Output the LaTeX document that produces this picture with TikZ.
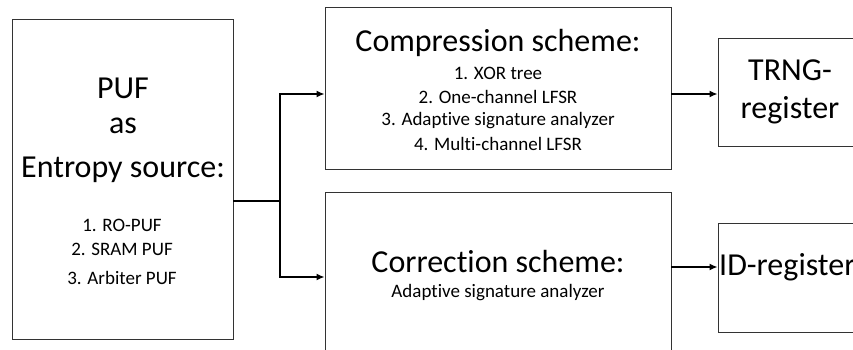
\documentclass[tikz,border=0pt]{standalone}
\usepackage{fontspec}
\setmainfont{Carlito}[Ligatures=NoCommon]
\usetikzlibrary{arrows.meta,calc}
\begin{document}
\begin{tikzpicture}[x=1pt,y=-1pt,
  blk/.style={draw=black!80,line width=0.8pt,rectangle,inner sep=0pt,fill=none},
  big/.style={font=\fontsize{32}{34}\selectfont,inner sep=0pt,anchor=center},
  small/.style={font=\fontsize{19}{21}\selectfont,inner sep=0pt,anchor=center},
  src/.style={font=\fontsize{19}{21}\selectfont,inner sep=0pt,anchor=center},
  wire/.style={line width=1.6pt,black},
  arr/.style={wire,-{Latex[length=8pt,width=7pt]}}]
\useasboundingbox (0,0) rectangle (853,349);
\clip (0,0) rectangle (853,349);

% blocks
\node[blk,minimum width=221pt,minimum height=320pt] (puf) at (122.5,179) {};
\node[blk,minimum width=346pt,minimum height=162pt] (comp) at (498,88) {};
\node[blk,minimum width=346pt,minimum height=170pt] (corr) at (498,277) {};
\node[blk,minimum width=140pt,minimum height=108pt] (trng) at (788,92) {};
\node[blk,minimum width=140pt,minimum height=109pt] (idr) at (788,277.5) {};

% entropy source
\node[big] (t1) at (123,88) {PUF};
\node[big] (t2) at (123,126) {as};
\node[big] (t3) at (123,170) {Entropy source:};
\node[src] (l1) at (122,225) {1. RO-PUF};
\node[src] (l2) at (122,249) {2. SRAM PUF};
\node[src] (l3) at (122,278) {3. Arbiter PUF};

% compression scheme
\node[big] (c0) at (498,43) {Compression scheme:};
\node[small] (c1) at (498,73) {1. XOR tree};
\node[small] (c2) at (498,97) {2. One-channel LFSR};
\node[small] (c3) at (498,121) {3. Adaptive signature analyzer};
\node[small] (c4) at (498,144) {4. Multi-channel LFSR};

% correction scheme
\node[big] (r0) at (498,262) {Correction scheme:};
\node[small] (r1) at (498,293) {Adaptive signature analyzer};

% registers
\node[big] (g1) at (790,70) {TRNG-};
\node[big] (g2) at (790,110) {register};
\node[big,anchor=west] (g3) at (719,267) {ID-register};

% connectors
\coordinate (j) at (280,201);
\coordinate (ja) at (280,94);
\coordinate (jb) at (280,277);
\coordinate (kb) at (671,267);
\draw[wire] (puf.east |- j) -- (j);
\draw[wire] (ja) -- (jb);
\draw[arr] ([xshift=-0.8pt]ja) -- (comp.west |- ja);
\draw[arr] ([xshift=-0.8pt]jb) -- (corr.west |- jb);
\draw[arr] (comp.east |- ja) -- (trng.west |- ja);
\draw[arr] (corr.east |- kb) -- (idr.west |- kb);
\end{tikzpicture}
\end{document}
